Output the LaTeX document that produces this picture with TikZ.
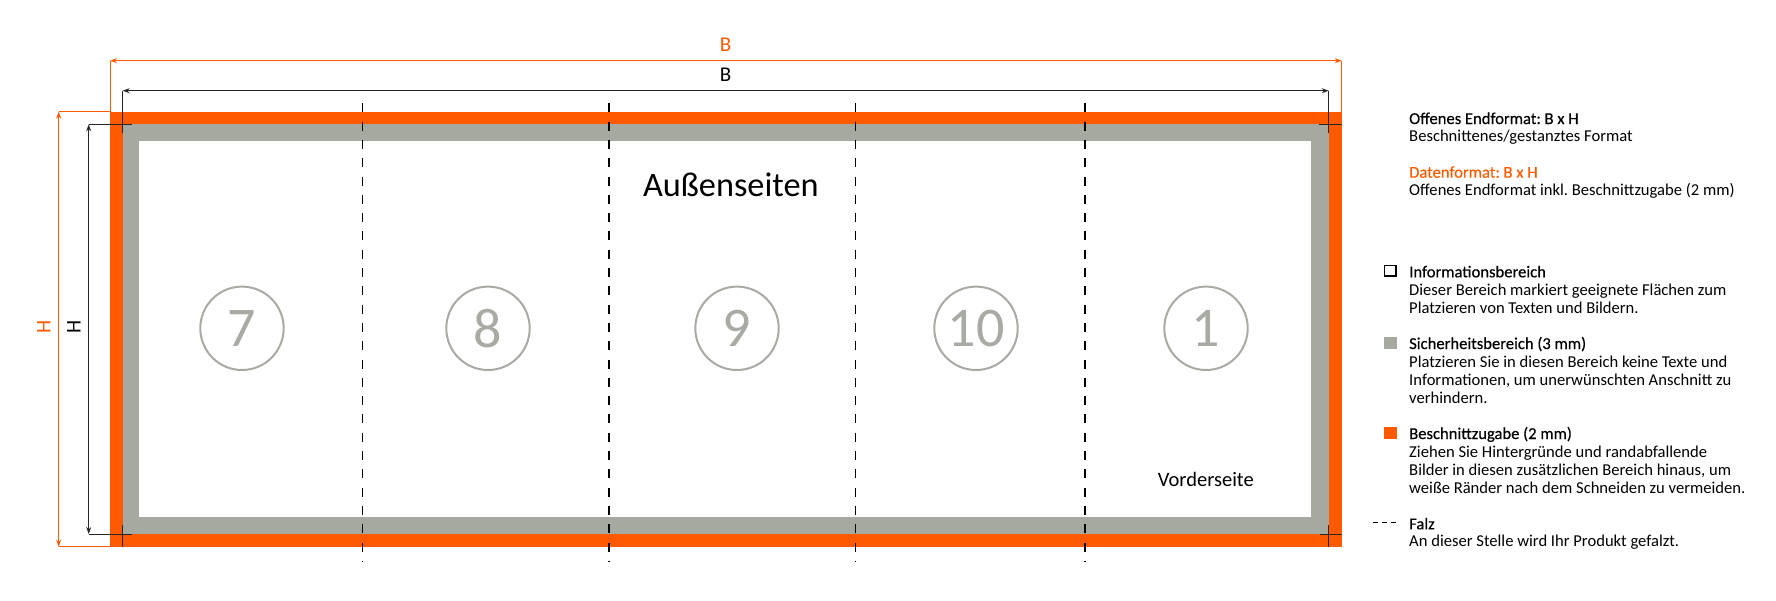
\documentclass[tikz,border=0pt]{standalone}
\usepackage{fontspec}
\setmainfont{Carlito}
\newfontfamily\headfont{Carlito}[FakeBold=0.4]
\usetikzlibrary{arrows.meta}
\definecolor{bleed}{HTML}{FF5A00}
\definecolor{safe}{HTML}{A5A99F}
\definecolor{ring}{HTML}{A8ABA3}
\frenchspacing
\tikzset{
  dimline/.style={line width=1pt,{Stealth[length=7pt,width=5pt]}-{Stealth[length=7pt,width=5pt]}},
  helpline/.style={line width=1pt},
  falz/.style={dash pattern=on 9pt off 9.3pt},
  panelnum/.style={circle,draw=ring,text=ring,line width=2pt,minimum size=83.4pt,inner sep=0pt,
    font=\fontsize{56}{56}\selectfont},
  dimlabel/.style={inner sep=0pt,font=\fontsize{21}{21}\selectfont},
  legtext/.style={anchor=base west,inner sep=0pt,font=\fontsize{16.6}{18}\selectfont},
  leghead/.style={legtext,font=\headfont\fontsize{16.6}{18}\selectfont}
}
\begin{document}
\begin{tikzpicture}[x=1pt,y=-1pt]
\useasboundingbox (0,0) rectangle (1776,600);
% Draw bleed, safety and information areas
\fill[bleed] (110,111.7) rectangle (1341.7,546.7);
\fill[safe] (122.7,124.3) rectangle (1329,534);
\fill[white] (139.3,141) rectangle (1310.7,517.3);
% Draw fold lines
\foreach \x/\w in {362.3/1.3,609/2.4,855.3/1.3,1085/1.3}
  \draw[falz,line width=\w pt] (\x,103.3) -- (\x,561.7);
% Draw panel numbers
\foreach \x/\val in {242/7,488/8,737/9,976/10,1206/1}
  \node[panelnum] (p\val) at (\x,328.3) {\val};
% Draw page labels
\node[anchor=base,inner sep=0pt,font=\fontsize{34.3}{34.3}\selectfont] (aussen) at (730.8,196.7) {Außenseiten};
\node[anchor=base,inner sep=0pt,font=\fontsize{20.5}{20.5}\selectfont] (vorder) at (1205.8,486.7) {Vorderseite};
% Draw data format dimensions
\draw[bleed,helpline] (110,111.7) -- (110,60.7);
\draw[bleed,helpline] (1341.7,111.7) -- (1341.7,60.7);
\draw[bleed,dimline] (110,60.7) -- (1341.7,60.7);
\node[bleed,dimlabel,anchor=base] (bbleed) at (725.7,51.7) {B};
\draw[bleed,helpline] (110,111.7) -- (58.7,111.7);
\draw[bleed,helpline] (110,546.7) -- (58.7,546.7);
\draw[bleed,dimline] (58.7,111.7) -- (58.7,546.7);
\node[bleed,dimlabel,rotate=90] (hbleed) at (43.8,327.2) {H};
% Draw end format dimensions
\draw[black!85,helpline] (122.7,90.7) -- (122.7,133.3);
\draw[black!85,helpline] (1328.7,90.7) -- (1328.7,133.3);
\draw[black!85,dimline] (122.7,90.7) -- (1328.7,90.7);
\node[dimlabel,anchor=base] (btrim) at (725.7,81.7) {B};
\draw[black!85,helpline] (88.7,124.3) -- (132,124.3);
\draw[black!85,helpline] (88.7,534) -- (132,534);
\draw[black!85,dimline] (88.7,124.3) -- (88.7,534);
\node[dimlabel,rotate=90] (htrim) at (73.8,327) {H};
% Draw crop marks
\draw[black!85,helpline] (122.7,525) -- (122.7,546.7);
\draw[black!85,helpline] (1328.7,525) -- (1328.7,546.7);
\draw[black!85,helpline] (1320,534) -- (1341.7,534);
\draw[black!85,helpline] (1319.3,124.3) -- (1341.7,124.3);
% Draw legend symbols
\draw[line width=1.3pt] (1384.6,265.6) rectangle (1396.1,276.1);
\fill[safe] (1384,336.7) rectangle (1396.7,349);
\fill[bleed] (1384,426.7) rectangle (1396.7,439);
\draw[dash pattern=on 5pt off 4pt,line width=1pt] (1372.7,522.7) -- (1396,522.7);
% Draw legend texts
\node[leghead] (l1) at (1409,124) {Offenes Endformat: B x H};
\node[legtext] (l2) at (1409,141.7) {Beschnittenes/gestanztes Format};
\node[leghead,text=bleed] (l3) at (1409,177.7) {Datenformat: B x H};
\node[legtext] (l4) at (1409,195.7) {Offenes Endformat inkl. Beschnittzugabe (2 mm)};
\node[leghead] (l5) at (1409,277.3) {Informationsbereich};
\node[legtext] (l6) at (1409,295.3) {Dieser Bereich markiert geeignete Flächen zum};
\node[legtext] (l7) at (1409,313.3) {Platzieren von Texten und Bildern.};
\node[leghead] (l8) at (1409,349) {Sicherheitsbereich (3 mm)};
\node[legtext] (l9) at (1409,367) {Platzieren Sie in diesen Bereich keine Texte und};
\node[legtext] (l10) at (1409,385) {Informationen, um unerwünschten Anschnitt zu};
\node[legtext] (l11) at (1409,403) {verhindern.};
\node[leghead] (l12) at (1409,439) {Beschnittzugabe (2 mm)};
\node[legtext] (l13) at (1409,457) {Ziehen Sie Hintergründe und randabfallende};
\node[legtext] (l14) at (1409,475) {Bilder in diesen zusätzlichen Bereich hinaus, um};
\node[legtext] (l15) at (1409,493) {weiße Ränder nach dem Schneiden zu vermeiden.};
\node[leghead] (l16) at (1409,529.3) {Falz};
\node[legtext] (l17) at (1409,546.7) {An dieser Stelle wird Ihr Produkt gefalzt.};
\end{tikzpicture}
\end{document}
